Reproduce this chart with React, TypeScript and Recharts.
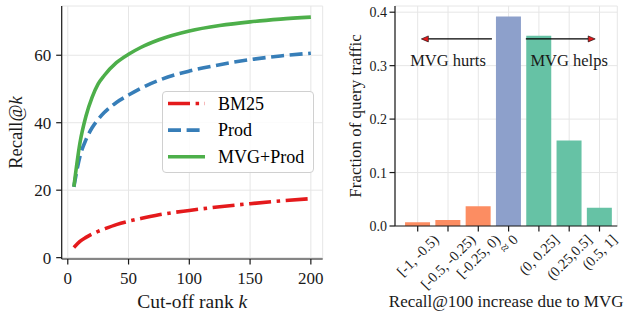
import {
  Bar,
  BarChart,
  CartesianGrid,
  Cell,
  Legend,
  Line,
  LineChart,
  ReferenceDot,
  ReferenceLine,
  XAxis,
  YAxis,
} from "recharts";

// left panel: recall@k vs cut-off rank
const CUTOFF_K = [5, 10, 15, 20, 25, 30, 40, 50, 60, 75, 100, 125, 150, 175, 200];
const BM25 = [3, 4.8, 6, 7, 7.8, 8.5, 9.8, 10.8, 11.6, 12.7, 14.0, 15.1, 16.0, 16.8, 17.5];
const PROD = [21, 30, 35, 38.5, 41, 43, 46, 48.2, 50.2, 52.6, 55.3, 57.2, 58.7, 59.8, 60.6];
const MVG_PROD = [21, 34, 42, 47.5, 51.5, 54, 57.8, 60.3, 62.3, 64.6, 67.2, 68.8, 69.9, 70.7, 71.3];
const K_TICKS = [0, 50, 100, 150, 200];
const RECALL_TICKS = [0, 20, 40, 60];

// right panel: distribution of recall@100 change
const BINS = ["[-1, -0.5)", "[-0.5, -0.25)", "[-0.25, 0)", "≈ 0", "(0, 0.25]", "(0.25,0.5]", "(0.5, 1]"];
const FRACTION = [0.007, 0.011, 0.037, 0.392, 0.356, 0.16, 0.034];
const FRACTION_TICKS = [0, 0.1, 0.2, 0.3, 0.4];

const FONT = "'Liberation Serif', 'DejaVu Serif', serif";
const INK = "#1a1a1a";
const GRID = "#e6e6e6";

const SERIES = [
  { key: "bm25", name: "BM25", color: "#e41a1c", dash: "22 5.6 3.5 5.6" },
  { key: "prod", name: "Prod", color: "#377eb8", dash: "13 5.6" },
  { key: "mvg", name: "MVG+Prod", color: "#4daf4a", dash: undefined },
];

const BIN_COLORS = ["#fc8d62", "#fc8d62", "#fc8d62", "#8da0cb", "#66c2a5", "#66c2a5", "#66c2a5"];

const lineData = CUTOFF_K.map((k, i) => ({ k, bm25: BM25[i], prod: PROD[i], mvg: MVG_PROD[i] }));
// pos = bin index, so annotations can sit between bars on a numeric axis
const barData = BINS.map((bin, i) => ({ bin, pos: i, fraction: FRACTION[i] }));

const axisStyle = { stroke: INK, strokeWidth: 1.2 };

// rough Times-like advance widths, used to centre the rotated tick labels
const charW = (c: string) => {
  if ("[]()-".includes(c)) return 0.333;
  if (",. ".includes(c)) return 0.25;
  if (c === "≈") return 0.548;
  return 0.5;
};
const textWidth = (s: string, fs: number) => s.split("").reduce((a, c) => a + charW(c), 0) * fs;

const BIN_FS = 14.5;
const BinTick = (props: any) => {
  const { x, y, payload } = props;
  const label = String(payload.value);
  const w = textWidth(label, BIN_FS);
  const cy = y + 1.5 + (w + BIN_FS * 0.8) * 0.3536;
  return (
    <text
      x={x}
      y={cy}
      transform={`rotate(-45 ${x} ${cy})`}
      textAnchor="middle"
      dominantBaseline="central"
      fontSize={BIN_FS}
      fontFamily={FONT}
      fill={INK}
    >
      {label}
    </text>
  );
};

const arrowShape = (p: any) => {
  const { x1, y1, x2, y2 } = p;
  const dir = Math.sign(x2 - x1);
  const hl = 7;
  const hw = 3;
  return (
    <g>
      <line x1={x1} y1={y1} x2={x2 - dir * hl} y2={y2} stroke="#000" strokeWidth={1.2} />
      <polygon
        points={`${x2},${y2} ${x2 - dir * hl},${y2 - hw} ${x2 - dir * hl},${y2 + hw}`}
        fill="#e41a1c"
        stroke="#000"
        strokeWidth={0.6}
      />
    </g>
  );
};

const noteText = (text: string) => (p: any) => (
  <text x={p.cx} y={p.cy} textAnchor="middle" fontSize={16.5} fontFamily={FONT} fill={INK}>
    {text}
  </text>
);

const RecallLegend = () => (
  <div
    style={{
      width: 152,
      height: 82,
      boxSizing: "border-box",
      border: "1px solid #d0d0d0",
      borderRadius: 4,
      background: "rgba(255,255,255,0.85)",
    }}
  >
    <svg width={150} height={80} style={{ display: "block" }}>
      {SERIES.map((s, i) => {
        const cy = 11.5 + i * 26.6;
        return (
          <g key={s.key}>
            <line x1={5} x2={42} y1={cy} y2={cy} stroke={s.color} strokeWidth={3.6} strokeDasharray={s.dash} />
            <text x={55} y={cy + 6} fontSize={18} fontFamily={FONT} fill="#000">
              {s.name}
            </text>
          </g>
        );
      })}
    </svg>
  </div>
);

const RecallChart = () => (
  <LineChart width={330} height={316} data={lineData} margin={{ top: 6, right: 7.3, bottom: 0, left: 0 }}>
    <CartesianGrid stroke={GRID} />
    <XAxis
      dataKey="k"
      type="number"
      domain={[-5, 209.75]}
      allowDataOverflow
      ticks={K_TICKS}
      interval={0}
      height={57}
      tickSize={5.5}
      tickMargin={7}
      tick={{ fontSize: 17, fill: INK, fontFamily: FONT }}
      axisLine={axisStyle}
      tickLine={axisStyle}
      label={({ viewBox }: any) => (
        <text x={viewBox.x + viewBox.width / 2} y={viewBox.y + 49} textAnchor="middle" fontSize={19.5} fontFamily={FONT} fill={INK}>
          Cut-off rank <tspan fontStyle="italic">k</tspan>
        </text>
      )}
    />
    <XAxis xAxisId="top" dataKey="k" orientation="top" type="number" domain={[-5, 209.75]} allowDataOverflow height={0} tick={false} tickLine={false} axisLine={axisStyle} />
    <YAxis
      type="number"
      domain={[-0.4, 74.6]}
      allowDataOverflow
      ticks={RECALL_TICKS}
      interval={0}
      width={61.7}
      tickSize={5.5}
      tickMargin={5}
      tick={{ fontSize: 17, fill: INK, fontFamily: FONT }}
      axisLine={axisStyle}
      tickLine={axisStyle}
      label={({ viewBox }: any) => {
        const cy = viewBox.y + viewBox.height / 2;
        return (
          <text x={21.5} y={cy} transform={`rotate(-90 21.5 ${cy})`} textAnchor="middle" fontSize={18.5} fontFamily={FONT} fill={INK}>
            Recall@<tspan fontStyle="italic">k</tspan>
          </text>
        );
      }}
    />
    <YAxis yAxisId="right" orientation="right" width={0} tick={false} tickLine={false} axisLine={axisStyle} />
    {SERIES.map((s) => (
      <Line
        key={s.key}
        dataKey={s.key}
        name={s.name}
        type="monotone"
        stroke={s.color}
        strokeWidth={3.6}
        strokeDasharray={s.dash}
        dot={false}
        activeDot={false}
        isAnimationActive={false}
      />
    ))}
    <Legend
      layout="vertical"
      align="center"
      verticalAlign="middle"
      content={() => <RecallLegend />}
      wrapperStyle={{ left: 162, top: 91, width: 152, height: 82 }}
    />
  </LineChart>
);

const ChangeChart = () => (
  <BarChart width={296} height={316} data={barData} margin={{ top: 6, right: 8.7, bottom: 0, left: 0 }} barCategoryGap={2.5}>
    <CartesianGrid stroke={GRID} />
    <XAxis
      dataKey="bin"
      type="category"
      padding={{ left: 7.55, right: 2.65 }}
      interval={0}
      height={90}
      tickSize={5.5}
      tickMargin={0}
      tick={<BinTick />}
      axisLine={axisStyle}
      tickLine={axisStyle}
      label={({ viewBox }: any) => (
        <text x={viewBox.x + viewBox.width / 2} y={viewBox.y + 81} textAnchor="middle" fontSize={17} fontFamily={FONT} fill={INK}>
          Recall@100 increase due to MVG
        </text>
      )}
    />
    <XAxis
      xAxisId="top"
      dataKey="pos"
      orientation="top"
      type="number"
      domain={[-0.75, 6.59]}
      allowDataOverflow
      height={0}
      tick={false}
      tickLine={false}
      axisLine={axisStyle}
    />
    <YAxis
      type="number"
      domain={[0, 0.4116]}
      allowDataOverflow
      ticks={FRACTION_TICKS}
      interval={0}
      width={65}
      tickSize={5.5}
      tickMargin={2.5}
      tickFormatter={(v: number) => v.toFixed(1)}
      tick={{ fontSize: 14, fill: INK, fontFamily: FONT }}
      axisLine={axisStyle}
      tickLine={axisStyle}
      label={({ viewBox }: any) => {
        const cx = viewBox.x + 31;
        const cy = viewBox.y + viewBox.height / 2;
        return (
          <text x={cx} y={cy} transform={`rotate(-90 ${cx} ${cy})`} textAnchor="middle" fontSize={17} fontFamily={FONT} fill={INK}>
            Fraction of query traffic
          </text>
        );
      }}
    />
    <YAxis yAxisId="right" orientation="right" width={0} tick={false} tickLine={false} axisLine={axisStyle} />
    <Bar dataKey="fraction" isAnimationActive={false}>
      {barData.map((d, i) => (
        <Cell key={d.bin} fill={BIN_COLORS[i]} />
      ))}
    </Bar>
    <ReferenceLine xAxisId="top" segment={[{ x: 2.45, y: 0.35 }, { x: 0.12, y: 0.35 }]} shape={arrowShape} />
    <ReferenceLine xAxisId="top" segment={[{ x: 3.57, y: 0.35 }, { x: 5.86, y: 0.35 }]} shape={arrowShape} />
    <ReferenceDot xAxisId="top" x={1} y={0.3} r={0} shape={noteText("MVG hurts")} />
    <ReferenceDot xAxisId="top" x={5} y={0.3} r={0} shape={noteText("MVG helps")} />
  </BarChart>
);

export default function App() {
  return (
    <div style={{ position: "absolute", left: 0, top: 0, width: 626, height: 316, background: "#fff", display: "flex" }}>
      <RecallChart />
      <ChangeChart />
    </div>
  );
}
